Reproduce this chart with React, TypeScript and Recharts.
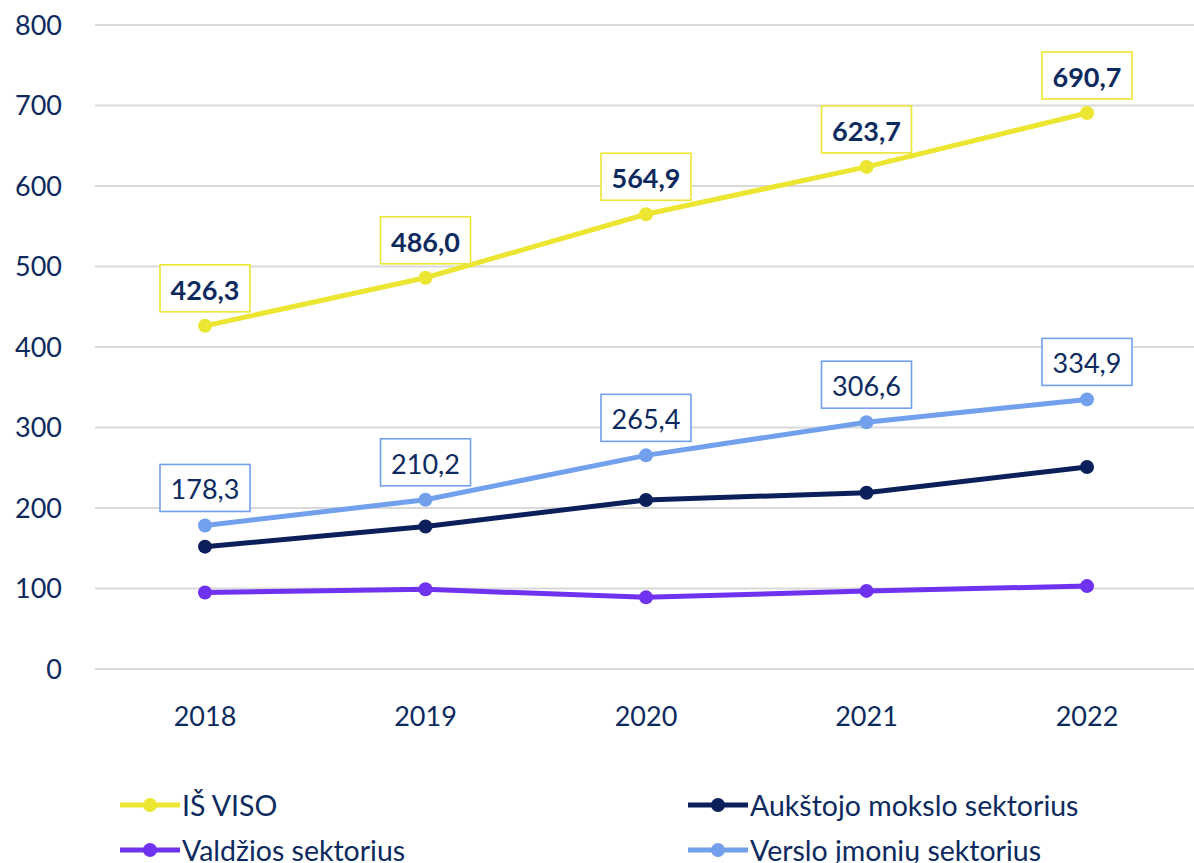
import React from 'react';
import { LineChart, Line, XAxis, YAxis, CartesianGrid, Legend, LabelList } from 'recharts';

const YEARS = ['2018', '2019', '2020', '2021', '2022'];
const TOTAL = [426.3, 486.0, 564.9, 623.7, 690.7];
const HIGHER_ED = [152, 177, 210, 219, 251];
const GOVERNMENT = [95, 99, 89, 97, 103];
const BUSINESS = [178.3, 210.2, 265.4, 306.6, 334.9];
const Y_TICKS = [0, 100, 200, 300, 400, 500, 600, 700, 800];

const NAVY = '#0d2a5e';
const FONT = 'Lato, "Open Sans", sans-serif';

const SERIES = [
  { key: 'total', name: 'IŠ VISO', color: '#ece633' },
  { key: 'higher', name: 'Aukštojo mokslo sektorius', color: '#0b1f5a' },
  { key: 'gov', name: 'Valdžios sektorius', color: '#6f32ee' },
  { key: 'business', name: 'Verslo įmonių sektorius', color: '#72a0ec' },
];

const data = YEARS.map((year, i) => ({
  year,
  total: TOTAL[i],
  higher: HIGHER_ED[i],
  gov: GOVERNMENT[i],
  business: BUSINESS[i],
}));

const fmt = (v: number) => v.toFixed(1).replace('.', ',');

const boxedLabel = (color: string, bold: boolean) => (props: any) => {
  const { x, y, value } = props;
  const w = 90;
  const h = 47;
  const bottom = y - 14;
  return (
    <g>
      <rect x={x - w / 2} y={bottom - h} width={w} height={h} fill="#fff" stroke={color} strokeWidth={1.6} />
      <text
        x={x}
        y={bottom - h / 2 + 1}
        textAnchor="middle"
        dominantBaseline="central"
        fill={NAVY}
        fontFamily={FONT}
        fontSize={27}
        fontWeight={bold ? 700 : 400}
      >
        {fmt(value)}
      </text>
    </g>
  );
};

// legend in a fixed 2x2 grid like the original
const LEGEND_POS = [
  { left: 120, top: 67 },
  { left: 688, top: 67 },
  { left: 120, top: 112 },
  { left: 688, top: 112 },
];

const GridLegend = () => (
  <div style={{ position: 'relative', width: 1194, height: 140 }}>
    {SERIES.map((s, i) => (
      <div
        key={s.key}
        style={{
          position: 'absolute',
          left: LEGEND_POS[i].left,
          top: LEGEND_POS[i].top,
          display: 'flex',
          alignItems: 'center',
          height: 30,
          whiteSpace: 'nowrap',
        }}
      >
        <svg width={60} height={20} style={{ marginRight: 2 }}>
          <line x1={0} y1={10} x2={60} y2={10} stroke={s.color} strokeWidth={5} />
          <circle cx={30} cy={10} r={7} fill={s.color} />
        </svg>
        <span style={{ fontFamily: FONT, fontSize: 28.5, color: NAVY, lineHeight: '30px' }}>{s.name}</span>
      </div>
    ))}
  </div>
);

export default function App() {
  const tick = { fill: NAVY, fontSize: 27, fontFamily: FONT };
  const drawOrder = ['gov', 'higher', 'business', 'total'];
  return (
    <div style={{ position: 'absolute', left: 0, top: 0, background: '#fff' }}>
      <LineChart width={1194} height={863} data={data} margin={{ top: 25, right: 0, bottom: 0, left: 0 }}>
        <CartesianGrid vertical={false} stroke="#d9d9d9" strokeWidth={2} />
        <XAxis
          dataKey="year"
          axisLine={false}
          tickLine={false}
          tickSize={0}
          tickMargin={38}
          height={54}
          padding={{ left: 110, right: 107 }}
          tick={tick}
          interval={0}
        />
        <YAxis
          domain={[0, 800]}
          ticks={Y_TICKS}
          axisLine={false}
          tickLine={false}
          tickSize={0}
          tickMargin={33}
          width={95}
          tick={tick}
          interval={0}
        />
        <Legend verticalAlign="bottom" content={() => <GridLegend />} wrapperStyle={{ left: 0, width: 1194 }} />
        {drawOrder.map((k) => {
          const s = SERIES.find((x) => x.key === k)!;
          return (
            <Line
              key={s.key}
              type="linear"
              dataKey={s.key}
              name={s.name}
              stroke={s.color}
              strokeWidth={5}
              dot={{ r: 7, fill: s.color, stroke: s.color, strokeWidth: 0 }}
              activeDot={false}
              isAnimationActive={false}
            >
              {k === 'total' && <LabelList dataKey="total" content={boxedLabel(s.color, true)} />}
              {k === 'business' && <LabelList dataKey="business" content={boxedLabel(s.color, false)} />}
            </Line>
          );
        })}
      </LineChart>
    </div>
  );
}
